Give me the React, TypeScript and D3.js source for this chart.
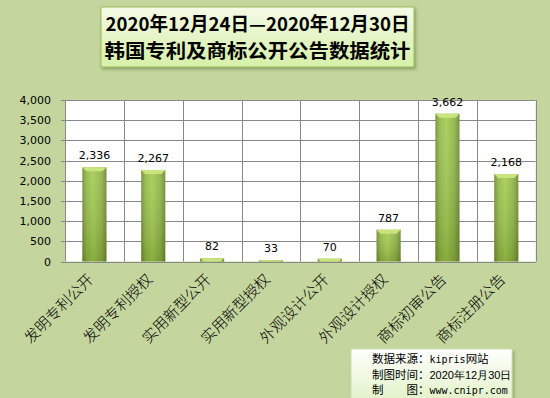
import React, { useEffect, useRef } from "react";
import * as d3 from "d3";

const categories = [
  "发明专利公开",
  "发明专利授权",
  "实用新型公开",
  "实用新型授权",
  "外观设计公开",
  "外观设计授权",
  "商标初审公告",
  "商标注册公告",
];
const counts = [2336, 2267, 82, 33, 70, 787, 3662, 2168];
const yTicks = [0, 500, 1000, 1500, 2000, 2500, 3000, 3500, 4000];
const titleLines = ["2020年12月24日—2020年12月30日", "韩国专利及商标公开公告数据统计"];
// each footer line: [label, value, value font]
const footerLines = [
  ["数据来源：", "kipris", "mono", "网站"],
  ["制图时间：", "2020年12月30日", "sans", ""],
  ["制　　图：", "www.cnipr.com", "mono", ""],
];

const W = 550;
const H = 398;

export default function App() {
  const ref = useRef<SVGSVGElement>(null);

  useEffect(() => {
    const svg = d3.select(ref.current);
    svg.selectAll("*").remove();

    const margin = { left: 65, right: 14.3, top: 100, bottom: 136.5 };
    const plotW = W - margin.left - margin.right;
    const plotH = H - margin.top - margin.bottom;

    const defs = svg.append("defs");

    // bar gradient, dark edges and light middle
    const barGrad = defs.append("linearGradient").attr("id", "barGrad")
      .attr("x1", "0").attr("x2", "1").attr("y1", "0").attr("y2", "0");
    barGrad.append("stop").attr("offset", "0%").attr("stop-color", "#6f8c30");
    barGrad.append("stop").attr("offset", "18%").attr("stop-color", "#92b845");
    barGrad.append("stop").attr("offset", "45%").attr("stop-color", "#a3cc4f");
    barGrad.append("stop").attr("offset", "80%").attr("stop-color", "#8cb042");
    barGrad.append("stop").attr("offset", "100%").attr("stop-color", "#6a8530");

    const shadeGrad = defs.append("linearGradient").attr("id", "shadeGrad")
      .attr("x1", "0").attr("x2", "0").attr("y1", "0").attr("y2", "1");
    shadeGrad.append("stop").attr("offset", "0%").attr("stop-color", "#ffffff").attr("stop-opacity", 0.1);
    shadeGrad.append("stop").attr("offset", "100%").attr("stop-color", "#3d5010").attr("stop-opacity", 0.25);

    const boxGrad = defs.append("linearGradient").attr("id", "boxGrad")
      .attr("x1", "0").attr("x2", "0").attr("y1", "0").attr("y2", "1");
    boxGrad.append("stop").attr("offset", "0%").attr("stop-color", "#f4fae6");
    boxGrad.append("stop").attr("offset", "100%").attr("stop-color", "#d6f0a8");

    const footGrad = defs.append("linearGradient").attr("id", "footGrad")
      .attr("x1", "0").attr("x2", "0").attr("y1", "0").attr("y2", "1");
    footGrad.append("stop").attr("offset", "0%").attr("stop-color", "#ffffff");
    footGrad.append("stop").attr("offset", "100%").attr("stop-color", "#e2f2c8");

    const shadow = defs.append("filter").attr("id", "shadow")
      .attr("x", "-10%").attr("y", "-10%").attr("width", "130%").attr("height", "140%");
    shadow.append("feDropShadow").attr("dx", 1.5).attr("dy", 2).attr("stdDeviation", 1.5)
      .attr("flood-color", "#556b2f").attr("flood-opacity", 0.5);

    // background
    svg.append("rect").attr("width", W).attr("height", H).attr("fill", "#c4d69e");

    const xScale = d3.scaleBand<string>()
      .domain(categories)
      .range([margin.left, margin.left + plotW])
      .paddingInner(0.59)
      .paddingOuter(0.295);

    const yScale = d3.scaleLinear()
      .domain([0, 4000])
      .range([margin.top + plotH, margin.top]);

    // plot area
    svg.append("rect")
      .attr("x", margin.left).attr("y", margin.top)
      .attr("width", plotW).attr("height", plotH)
      .attr("fill", "#ffffff");

    // horizontal grid
    svg.append("g").selectAll("line")
      .data(yTicks)
      .enter().append("line")
      .attr("x1", margin.left - 4).attr("x2", margin.left + plotW)
      .attr("y1", d => Math.round(yScale(d)) + 0.5)
      .attr("y2", d => Math.round(yScale(d)) + 0.5)
      .attr("stroke", "#888888").attr("stroke-width", 1);

    // vertical grid at category boundaries
    const step = xScale.step();
    const edges = categories.map(c => (xScale(c) as number) - step * 0.295);
    edges.push(margin.left + plotW);
    svg.append("g").selectAll("line")
      .data(edges)
      .enter().append("line")
      .attr("x1", d => Math.round(d) + 0.5).attr("x2", d => Math.round(d) + 0.5)
      .attr("y1", margin.top).attr("y2", margin.top + plotH)
      .attr("stroke", "#888888").attr("stroke-width", 1);

    // y axis labels
    svg.append("g").selectAll("text")
      .data(yTicks)
      .enter().append("text")
      .attr("x", margin.left - 14)
      .attr("y", d => yScale(d) + 4)
      .attr("text-anchor", "end")
      .attr("font-family", "DejaVu Sans, Verdana, sans-serif")
      .attr("font-size", 11)
      .attr("fill", "#000")
      .text(d => d3.format(",")(d));

    // bars
    const bw = xScale.bandwidth();
    const bars = svg.append("g").selectAll("g")
      .data(counts)
      .enter().append("g");

    bars.append("rect")
      .attr("x", (d, i) => xScale(categories[i]) as number)
      .attr("y", d => yScale(d))
      .attr("width", bw)
      .attr("height", d => yScale(0) - yScale(d))
      .attr("fill", "url(#barGrad)");

    bars.append("rect")
      .attr("x", (d, i) => xScale(categories[i]) as number)
      .attr("y", d => yScale(d))
      .attr("width", bw)
      .attr("height", d => yScale(0) - yScale(d))
      .attr("fill", "url(#shadeGrad)");

    // bevel on top
    bars.append("path")
      .attr("d", (d, i) => {
        const x0 = xScale(categories[i]) as number;
        const y0 = yScale(d);
        const h = Math.min(4, yScale(0) - y0);
        return `M${x0},${y0}H${x0 + bw}L${x0 + bw - h},${y0 + h}H${x0 + h}Z`;
      })
      .attr("fill", "#c8e47c");

    // value labels
    svg.append("g").selectAll("text")
      .data(counts)
      .enter().append("text")
      .attr("x", (d, i) => (xScale(categories[i]) as number) + bw / 2)
      .attr("y", d => yScale(d) - 8)
      .attr("text-anchor", "middle")
      .attr("font-family", "DejaVu Sans, Verdana, sans-serif")
      .attr("font-size", 11)
      .attr("fill", "#000")
      .text(d => d3.format(",")(d));

    // category labels
    svg.append("g").selectAll("text")
      .data(categories)
      .enter().append("text")
      .attr("transform", c => `translate(${(xScale(c) as number) + bw / 2},${margin.top + plotH + 19}) rotate(-45)`)
      .attr("text-anchor", "end")
      .attr("font-family", "Noto Sans CJK SC, sans-serif")
      .attr("font-weight", 300)
      .attr("font-size", 15)
      .attr("fill", "#000")
      .text(c => c);

    // title box
    svg.append("rect")
      .attr("x", 101).attr("y", 7).attr("width", 313).attr("height", 60)
      .attr("fill", "url(#boxGrad)")
      .attr("stroke", "#9bbb59").attr("stroke-width", 1)
      .attr("filter", "url(#shadow)");

    svg.append("g").selectAll("text")
      .data(titleLines)
      .enter().append("text")
      .attr("x", 257.5)
      .attr("y", (d, i) => 31 + i * 27)
      .attr("text-anchor", "middle")
      .attr("font-family", "Noto Sans CJK SC, sans-serif")
      .attr("font-weight", "bold")
      .attr("font-size", 19)
      .attr("textLength", (d, i) => (i === 0 ? 304 : 306))
      .attr("lengthAdjust", "spacingAndGlyphs")
      .attr("fill", "#000")
      .text(d => d);

    // footer box
    svg.append("rect")
      .attr("x", 351).attr("y", 349).attr("width", 161).attr("height", 52)
      .attr("fill", "url(#footGrad)")
      .attr("stroke", "#d0e0b0").attr("stroke-width", 1)
      .attr("filter", "url(#shadow)");

    const foot = svg.append("g").selectAll("text")
      .data(footerLines)
      .enter().append("text")
      .attr("x", 372)
      .attr("y", (d, i) => 363 + i * 15.5)
      .attr("font-family", "Noto Sans CJK SC, sans-serif")
      .attr("font-size", 11.5)
      .attr("fill", "#000");
    foot.append("tspan").text(d => d[0]);
    foot.append("tspan")
      .attr("font-family", d => (d[2] === "mono" ? "DejaVu Sans Mono, monospace" : "Liberation Sans, Arial, sans-serif"))
      .attr("font-size", d => (d[2] === "mono" ? 10 : 11))
      .text(d => d[1]);
    foot.append("tspan").text(d => d[3]);
  }, []);

  return (
    <svg
      ref={ref}
      width={W}
      height={H}
      style={{ position: "absolute", left: 0, top: 0, display: "block" }}
    />
  );
}
